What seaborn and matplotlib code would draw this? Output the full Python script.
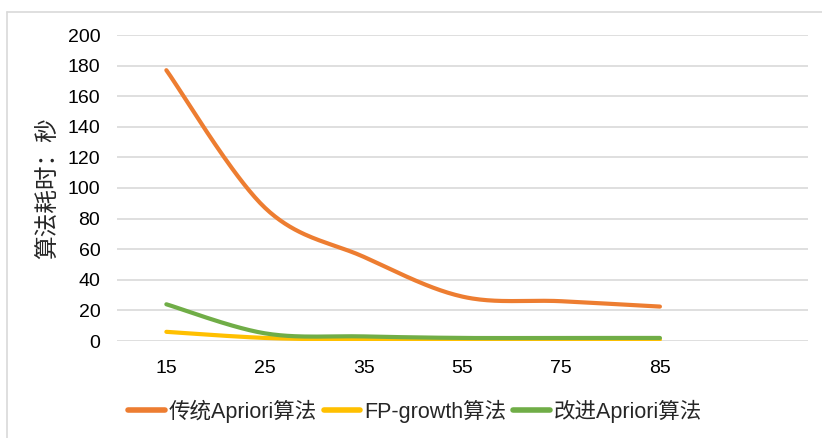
import numpy as np
import pandas as pd
import seaborn as sns
import matplotlib.pyplot as plt
from matplotlib.lines import Line2D

# Support threshold categories and run time (seconds) for each algorithm
categories = ["15", "25", "35", "55", "75", "85"]
apriori_classic = [177, 87, 55, 29, 26, 22.5]
fp_growth = [6, 2, 1, 1, 1, 1]
apriori_improved = [24, 5, 3, 2, 2, 2]

series_names = ["传统Apriori算法", "FP-growth算法", "改进Apriori算法"]
series_values = [apriori_classic, fp_growth, apriori_improved]
colors = ["#ED7D31", "#FFC000", "#70AD47"]
y_label = "算法耗时：秒"
y_ticks = list(range(0, 201, 20))


def smooth(xs, ys, steps=40):
    """Bezier smoothing through every point (Catmull-Rom style control points)."""
    p = np.column_stack([xs, ys]).astype(float)
    n = len(p)
    out = []
    for i in range(n - 1):
        p0 = p[i - 1] if i > 0 else p[i]
        p1, p2 = p[i], p[i + 1]
        p3 = p[i + 2] if i + 2 < n else p[i + 1]
        c1 = p1 + (p2 - p0) / 6.0
        c2 = p2 - (p3 - p1) / 6.0
        t = np.linspace(0, 1, steps, endpoint=(i == n - 2))[:, None]
        seg = ((1 - t) ** 3) * p1 + 3 * ((1 - t) ** 2) * t * c1 \
            + 3 * (1 - t) * t ** 2 * c2 + t ** 3 * p2
        out.append(seg)
    out = np.vstack(out)
    return out[:, 0], out[:, 1]


frames = []
positions = np.arange(len(categories))
for name, vals in zip(series_names, series_values):
    sx, sy = smooth(positions, vals)
    frames.append(pd.DataFrame({"x": sx, "y": sy, "series": name}))
data = pd.concat(frames, ignore_index=True)

sns.set_theme(style="white")
plt.rcParams["font.family"] = ["Liberation Sans", "Noto Sans CJK SC", "DejaVu Sans"]

fig = plt.figure(figsize=(8.22, 4.38), dpi=100)
ax = fig.add_axes([117 / 822, 97 / 438, 691 / 822, 306 / 438])

sns.lineplot(data=data, x="x", y="y", hue="series", hue_order=series_names,
             palette=colors, sort=False, estimator=None, units="series",
             linewidth=3.0, solid_capstyle="round", ax=ax, legend=False)

ax.set_xlim(-0.5, 6.5)
ax.set_ylim(0, 200)
ax.set_xticks(positions)
ax.set_xticklabels(categories)
ax.set_yticks(y_ticks)
ax.tick_params(axis="both", length=0, labelsize=14, colors="#000000")
ax.tick_params(axis="x", pad=14)
ax.tick_params(axis="y", pad=12)
ax.yaxis.grid(True, color="#d9d9d9", linewidth=1.2)
ax.set_axisbelow(True)
for s in ax.spines.values():
    s.set_visible(False)
ax.set_xlabel("")
ax.set_ylabel(y_label, fontsize=17, labelpad=6)

handles = [Line2D([0], [0], color=c, lw=4, solid_capstyle="round") for c in colors]
fig.legend(handles, series_names, loc="center", bbox_to_anchor=(0.505, 1 - 411 / 438),
           ncol=3, frameon=False, fontsize=15.5, handlelength=1.7,
           handletextpad=0.2, columnspacing=0.3)

# light chart-area border on the top and left
fig.add_artist(Line2D([7 / 822, 7 / 822], [0, 1 - 12 / 438],
                      transform=fig.transFigure, color="#d9d9d9", lw=1.2))
fig.add_artist(Line2D([7 / 822, 1], [1 - 12 / 438, 1 - 12 / 438],
                      transform=fig.transFigure, color="#d9d9d9", lw=1.2))

fig.savefig("out.png", dpi=100)
